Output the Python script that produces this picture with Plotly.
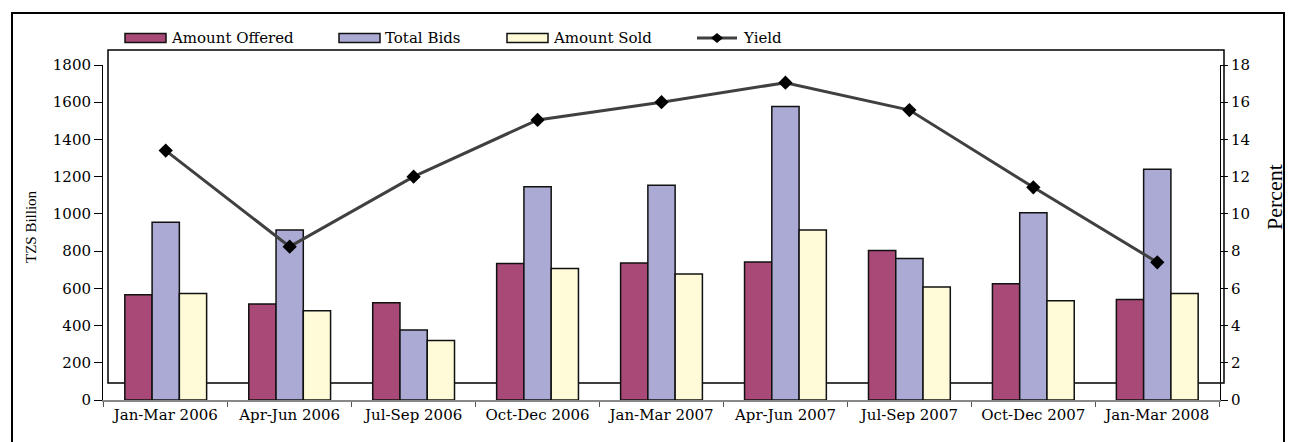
import plotly.graph_objects as go

categories = ["Jan-Mar 2006", "Apr-Jun 2006", "Jul-Sep 2006", "Oct-Dec 2006",
              "Jan-Mar 2007", "Apr-Jun 2007", "Jul-Sep 2007", "Oct-Dec 2007",
              "Jan-Mar 2008"]
amount_offered = [566, 516, 523, 733, 736, 742, 803, 624, 540]
total_bids = [955, 914, 376, 1146, 1154, 1577, 760, 1006, 1240]
amount_sold = [572, 480, 320, 707, 677, 913, 607, 533, 572]
yield_pct = [13.4, 8.24, 12.0, 15.05, 16.0, 17.05, 15.58, 11.43, 7.4]

left_ticks = [0, 200, 400, 600, 800, 1000, 1200, 1400, 1600, 1800]
right_ticks = [0, 2, 4, 6, 8, 10, 12, 14, 16, 18]

C_OFF = "#A94977"
C_BID = "#AAAAD5"
C_SOLD = "#FFFAD7"
FONT = "DejaVu Serif"
TFONT = "Liberation Serif"

fig = go.Figure()
for name, vals, col in [("Amount Offered", amount_offered, C_OFF),
                        ("Total Bids", total_bids, C_BID),
                        ("Amount Sold", amount_sold, C_SOLD)]:
    fig.add_trace(go.Bar(x=categories, y=vals, name=name, marker_color=col,
                         marker_line_color="#111111", marker_line_width=1.5,
                         yaxis="y"))
fig.add_trace(go.Scatter(x=categories, y=yield_pct, name="Yield", yaxis="y2",
                         mode="lines+markers",
                         line=dict(color="#404040", width=3),
                         marker=dict(symbol="diamond", size=11, color="black")))

W, H = 1290, 442
L, R, T, B = 103, 1220, 65, 400
pw, ph = R - L, B - T

def px(x):
    return (x - L) / pw

def py(y):
    return (B - y) / ph

shapes = []
# outer border
shapes.append(dict(type="rect", xref="paper", yref="paper", x0=px(12), x1=px(1284),
                   y0=py(450), y1=py(13), line=dict(color="black", width=2),
                   fillcolor="rgba(0,0,0,0)", layer="below"))
# plot area rectangle
shapes.append(dict(type="rect", xref="paper", yref="paper", x0=px(108), x1=px(1224),
                   y0=py(383), y1=py(50), line=dict(color="black", width=1.5),
                   fillcolor="white", layer="below"))

annotations = []
# manual legend
leg_y = 38
items = [("Amount Offered", 125, C_OFF, "bar"), ("Total Bids", 339, C_BID, "bar"),
         ("Amount Sold", 507, C_SOLD, "bar"), ("Yield", 697, None, "line")]
for name, x0, col, kind in items:
    if kind == "bar":
        shapes.append(dict(type="rect", xref="paper", yref="paper",
                           x0=px(x0), x1=px(x0 + 41), y0=py(leg_y + 4.5), y1=py(leg_y - 4.5),
                           fillcolor=col, line=dict(color="#111111", width=1.5)))
    else:
        shapes.append(dict(type="line", xref="paper", yref="paper",
                           x0=px(x0), x1=px(x0 + 40), y0=py(leg_y), y1=py(leg_y),
                           line=dict(color="#404040", width=3)))
        shapes.append(dict(type="path", xref="paper", yref="paper",
                           path="M {a},{b} L {c},{d} L {e},{f} L {g},{h} Z".format(
                               a=px(x0 + 14), b=py(leg_y), c=px(x0 + 20), d=py(leg_y - 5),
                               e=px(x0 + 26), f=py(leg_y), g=px(x0 + 20), h=py(leg_y + 5)),
                           fillcolor="black", line=dict(color="black", width=0)))
    annotations.append(dict(text=name, xref="paper", yref="paper", x=px(x0 + 44),
                            y=py(leg_y), xanchor="left", yanchor="middle", showarrow=False,
                            font=dict(family=FONT, size=15, color="black")))

# axis titles
annotations.append(dict(text="TZS Billion", xref="paper", yref="paper", x=px(31), y=py(227),
                        xanchor="center", yanchor="middle", textangle=-90, showarrow=False,
                        font=dict(family=TFONT, size=15, color="black")))
annotations.append(dict(text="Percent", xref="paper", yref="paper", x=px(1274), y=py(197),
                        xanchor="center", yanchor="middle", textangle=-90, showarrow=False,
                        font=dict(family=TFONT, size=22, color="black")))

fig.update_layout(
    width=W, height=H,
    margin=dict(l=L, r=W - R, t=T, b=H - B, pad=0),
    paper_bgcolor="white", plot_bgcolor="rgba(0,0,0,0)",
    barmode="group", bargap=0.34, bargroupgap=0,
    showlegend=False,
    font=dict(family=FONT, size=15, color="black"),
    xaxis=dict(type="category", showgrid=False, showline=True, linecolor="#888888",
               linewidth=1.5, ticks="outside", tickson="boundaries", ticklen=5,
               tickcolor="#555555", tickfont=dict(family=FONT, size=15), zeroline=False),
    yaxis=dict(range=[0, 1800], tickvals=left_ticks, showgrid=False, showline=True,
               linecolor="black", linewidth=1, ticks="outside", ticklen=8,
               tickcolor="black", zeroline=False, tickfont=dict(family=FONT, size=15)),
    yaxis2=dict(range=[0, 18], tickvals=right_ticks, overlaying="y", side="right",
                showgrid=False, showline=True, linecolor="black", linewidth=1,
                ticks="outside", ticklen=7, tickcolor="black", zeroline=False,
                tickfont=dict(family=FONT, size=15)),
    shapes=shapes, annotations=annotations,
)

fig.write_html("out.html", config={"displayModeBar": False},
               post_script="document.body.style.margin='0';document.body.style.overflow='hidden';")
